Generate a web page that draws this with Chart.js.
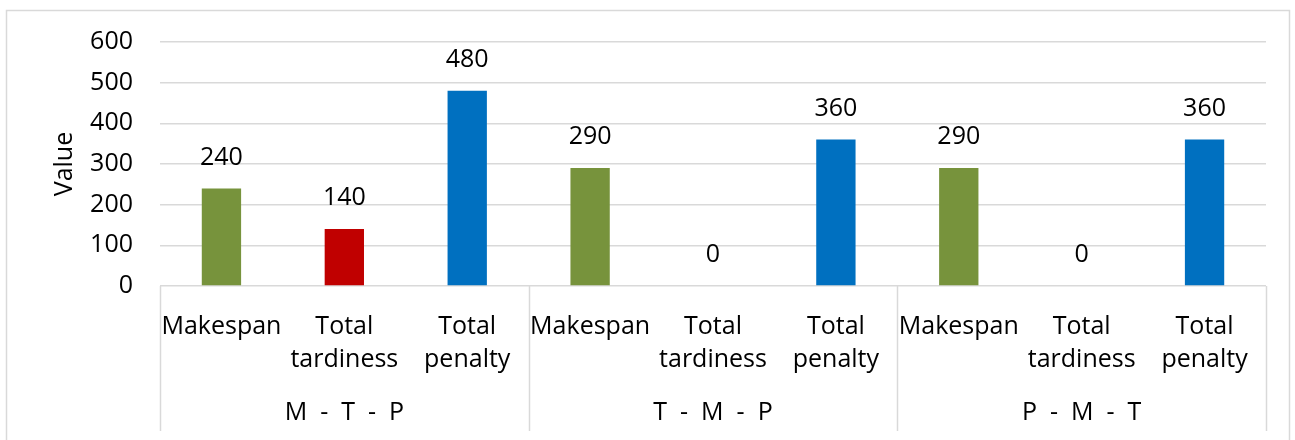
<!DOCTYPE html>
<html>
<head>
<meta charset="utf-8">
<script src="https://cdn.jsdelivr.net/npm/chart.js@4.4.1/dist/chart.umd.min.js"></script>
<style>
  body { margin: 0; background: #fff; }
  #wrap { width: 1295px; height: 440px; position: relative; }
</style>
</head>
<body>
<div id="wrap"><canvas id="chart" width="1295" height="440"></canvas></div>
<script>
// data
const groups = ["M  -  T  -  P", "T  -  M  -  P", "P  -  M  -  T"];
const metrics = [["Makespan"], ["Total", "tardiness"], ["Total", "penalty"]];
const values = [240, 140, 480, 290, 0, 360, 290, 0, 360];
const metricColors = ["#77933C", "#C00000", "#0070C0"];
const yMax = 600;
const yStep = 100;

const FONT = "'Open Sans', 'Noto Sans', sans-serif";
const FSIZE = 25;

// 3 groups x 3 metrics
const labels = [];
const colors = [];
groups.forEach(() => {
    metrics.forEach((m, i) => {
        labels.push(m);
        colors.push(metricColors[i]);
    });
});

// frame round the whole chart
const framePlugin = {
    id: "frame",
    beforeDraw(chart) {
        const ctx = chart.ctx;
        ctx.save();
        ctx.strokeStyle = "#d9d9d9";
        ctx.lineWidth = 1.5;
        ctx.strokeRect(6.5, 10.5, 1283, 440);
        ctx.restore();
    }
};

// value labels above bars
const barLabelPlugin = {
    id: "barLabels",
    afterDatasetsDraw(chart) {
        const ctx = chart.ctx;
        const meta = chart.getDatasetMeta(0);
        ctx.save();
        ctx.font = FSIZE + "px " + FONT;
        ctx.fillStyle = "#000";
        ctx.textAlign = "center";
        ctx.textBaseline = "middle";
        meta.data.forEach((bar, i) => {
            ctx.fillText(String(values[i]), bar.x, bar.y - 31);
        });
        ctx.restore();
    }
};

// group separators and group names under the axis
const groupAxisPlugin = {
    id: "groupAxis",
    afterDraw(chart) {
        const ctx = chart.ctx;
        const xs = chart.scales.x;
        const area = chart.chartArea;
        const n = metrics.length;
        const bounds = [];
        for (let k = 0; k <= groups.length; k++) {
            if (k === 0) bounds.push(xs.left);
            else if (k === groups.length) bounds.push(xs.right);
            else bounds.push((xs.getPixelForValue(k * n - 1) + xs.getPixelForValue(k * n)) / 2);
        }
        ctx.save();
        ctx.strokeStyle = "#d9d9d9";
        ctx.lineWidth = 1.5;
        bounds.forEach(x => {
            ctx.beginPath();
            ctx.moveTo(Math.round(x) + 0.5, area.bottom);
            ctx.lineTo(Math.round(x) + 0.5, 431);
            ctx.stroke();
        });
        ctx.font = FSIZE + "px " + FONT;
        ctx.fillStyle = "#000";
        ctx.textAlign = "center";
        ctx.textBaseline = "middle";
        groups.forEach((g, k) => {
            ctx.fillText(g, (bounds[k] + bounds[k + 1]) / 2, 413);
        });
        ctx.restore();
    }
};

new Chart(document.getElementById("chart"), {
    type: "bar",
    data: {
        labels: labels,
        datasets: [{
            label: "Value",
            data: values,
            backgroundColor: colors,
            barPercentage: 0.32,
            categoryPercentage: 1
        }]
    },
    options: {
        responsive: false,
        animation: false,
        devicePixelRatio: 1,
        layout: { padding: { top: 40, right: 29, bottom: 0, left: 0 } },
        plugins: {
            legend: { display: false },
            tooltip: { enabled: false }
        },
        scales: {
            x: {
                grid: { display: false },
                border: { display: false },
                ticks: {
                    autoSkip: false,
                    maxRotation: 0,
                    minRotation: 0,
                    padding: 16,
                    color: "#000",
                    font: { family: FONT, size: FSIZE, lineHeight: 1.32 }
                },
                afterFit(scale) { scale.height = 154; }
            },
            y: {
                min: 0,
                max: yMax,
                grid: { color: "#d9d9d9", lineWidth: 1.5, drawTicks: false },
                border: { display: false },
                ticks: {
                    stepSize: yStep,
                    padding: 27,
                    color: "#000",
                    font: { family: FONT, size: FSIZE }
                },
                title: {
                    display: true,
                    text: "Value",
                    color: "#000",
                    font: { family: FONT, size: FSIZE },
                    padding: { top: 50, bottom: 0 }
                },
                afterFit(scale) { scale.width = 160; }
            }
        }
    },
    plugins: [framePlugin, barLabelPlugin, groupAxisPlugin]
});
</script>
</body>
</html>
